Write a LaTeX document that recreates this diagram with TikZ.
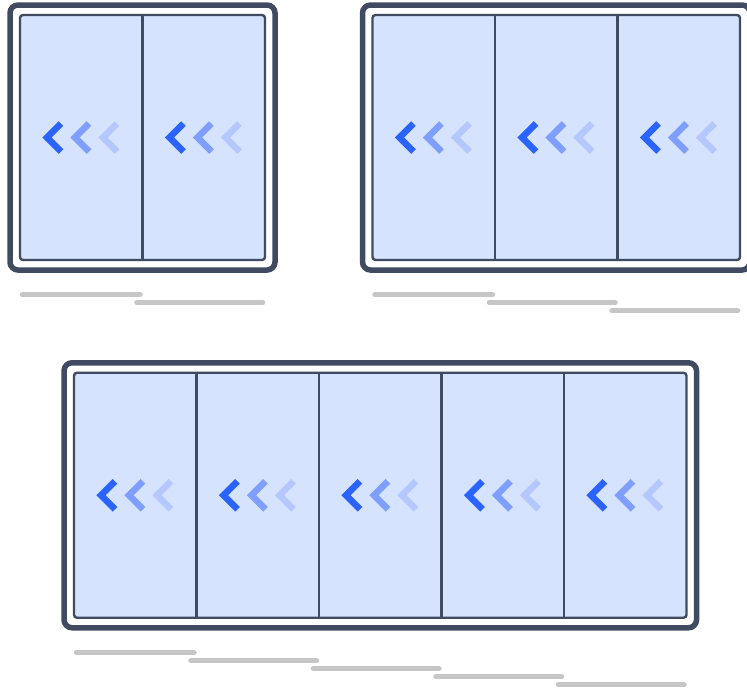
\documentclass[tikz,border=0pt]{standalone}
\definecolor{frm}{HTML}{404B61}
\definecolor{pnl}{HTML}{D6E3FE}
\definecolor{chA}{HTML}{2B63FF}
\definecolor{chB}{HTML}{7E9FFF}
\definecolor{chC}{HTML}{B4C7FF}
\definecolor{gry}{HTML}{C6C6C6}
\tikzset{
  outerframe/.style={draw=frm, line width=5.5pt, rounded corners=8pt, fill=white},
  innerpanel/.style={draw=frm, line width=2.4pt, rounded corners=3pt, fill=pnl},
  divider/.style={draw=frm, line width=2.4pt},
  chev/.style={line width=6.5pt, miter limit=10, line join=miter, line cap=butt},
  gbar/.style={draw=gry, line width=5.5pt, line cap=round},
}
% #1 = inner left x, #2 = inner top y, #3 = number of panels
\newcommand{\slidingframe}[3]{%
  \pgfmathsetmacro{\sfxr}{#1+122.5*#3}%
  \pgfmathsetmacro{\sfyb}{#2+245}%
  \pgfmathsetmacro{\sfyc}{#2+122.5}%
  \draw[outerframe] (#1-10,#2-10) rectangle (\sfxr+10,\sfyb+10);
  \draw[innerpanel] (#1,#2) rectangle (\sfxr,\sfyb);
  \foreach \i in {2,...,#3}{
    \draw[divider] (#1+122.5*\i-122.5,#2) -- (#1+122.5*\i-122.5,\sfyb);
  }
  \foreach \i in {1,...,#3}{
    \pgfmathsetmacro{\sfl}{#1+122.5*\i-122.5}
    \draw[chev,chA] (\sfl+41,\sfyc-14) -- (\sfl+27,\sfyc) -- (\sfl+41,\sfyc+14);
    \draw[chev,chB] (\sfl+69,\sfyc-14) -- (\sfl+55,\sfyc) -- (\sfl+69,\sfyc+14);
    \draw[chev,chC] (\sfl+97,\sfyc-14) -- (\sfl+83,\sfyc) -- (\sfl+97,\sfyc+14);
  }
  \draw[gbar] (#1+2.5,\sfyb+34.7) -- (#1+120,\sfyb+34.7);
  \foreach \i in {2,...,#3}{
    \draw[gbar] (#1+122.5*\i-122.5-8+2.5,\sfyb+34.7+8*\i-8) -- (#1+122.5*\i-2.5,\sfyb+34.7+8*\i-8);
  }
}
\begin{document}
\begin{tikzpicture}[x=1pt,y=-1pt]
  \clip (0,0) rectangle (747,689);
  \slidingframe{20}{15}{2}
  \slidingframe{372.5}{15}{3}
  \slidingframe{74}{372.75}{5}
\end{tikzpicture}
\end{document}
